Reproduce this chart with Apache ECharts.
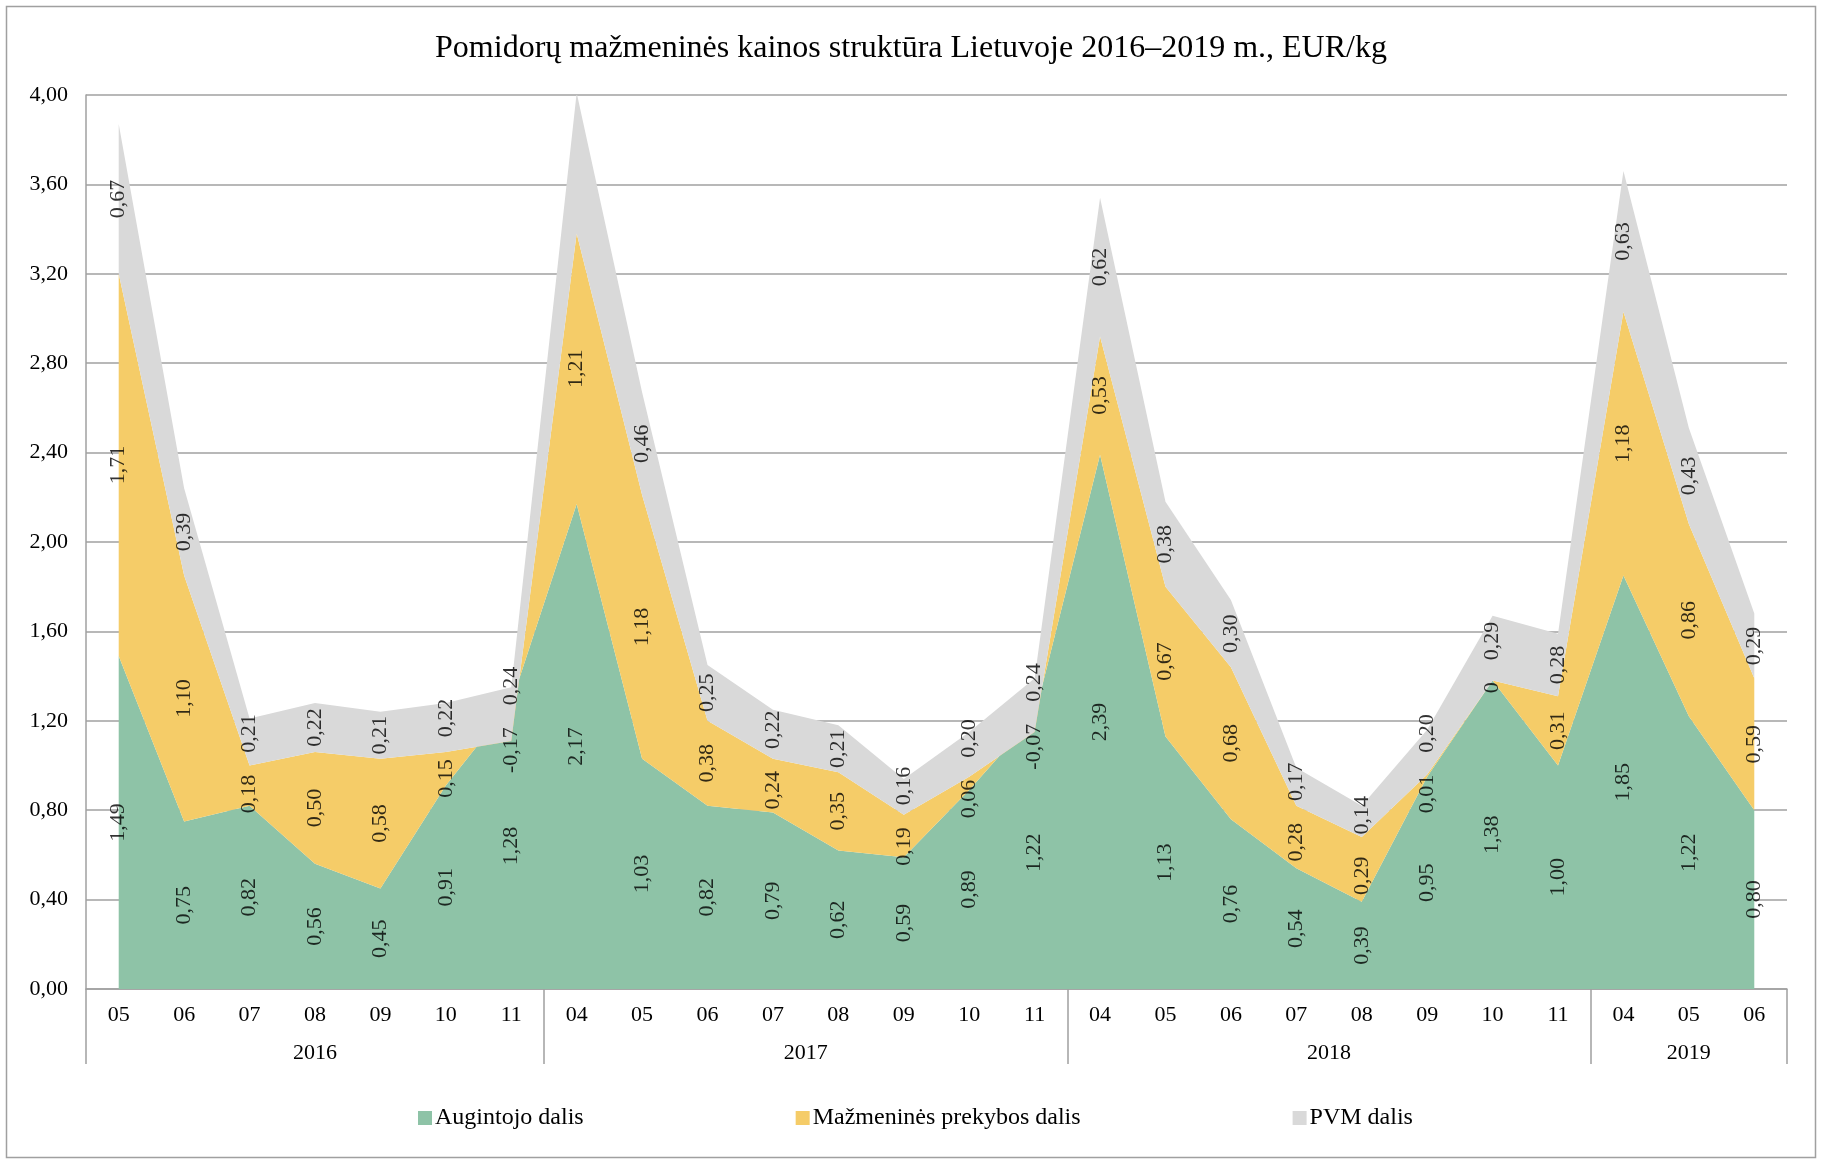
<!DOCTYPE html>
<html>
<head>
<meta charset="utf-8">
<script src="https://cdn.jsdelivr.net/npm/echarts@6/dist/echarts.min.js"></script>
<style>
  html, body { margin: 0; padding: 0; background: #fff; }
  #chart { width: 1822px; height: 1164px; }
</style>
</head>
<body>
<div id="chart"></div>
<script>
// Month codes along the axis, grouped by year
const months = ['05','06','07','08','09','10','11',
                '04','05','06','07','08','09','10','11',
                '04','05','06','07','08','09','10','11',
                '04','05','06'];
const years = ['2016', '2017', '2018', '2019'];
const monthsPerYear = [7, 8, 8, 3];

// Price components, EUR/kg
const growerShare = [1.49, 0.75, 0.82, 0.56, 0.45, 0.91, 1.28,
                     2.17, 1.03, 0.82, 0.79, 0.62, 0.59, 0.89, 1.22,
                     2.39, 1.13, 0.76, 0.54, 0.39, 0.95, 1.38, 1.00,
                     1.85, 1.22, 0.80];
const retailShare = [1.71, 1.10, 0.18, 0.50, 0.58, 0.15, -0.17,
                     1.21, 1.18, 0.38, 0.24, 0.35, 0.19, 0.06, -0.07,
                     0.53, 0.67, 0.68, 0.28, 0.29, 0.01, 0, 0.31,
                     1.18, 0.86, 0.59];
const vatShare = [0.67, 0.39, 0.21, 0.22, 0.21, 0.22, 0.24,
                  0.63, 0.46, 0.25, 0.22, 0.21, 0.16, 0.20, 0.24,
                  0.62, 0.38, 0.30, 0.17, 0.14, 0.20, 0.29, 0.28,
                  0.63, 0.43, 0.29];
// the April 2017 VAT value carries no label
const vatUnlabeled = [7];

const yTicks = { min: 0, max: 4, step: 0.4 };

const seriesNames = ['Augintojo dalis', 'Mažmeninės prekybos dalis', 'PVM dalis'];
const colors = ['#8ec3a7', '#f5cc68', '#d9d9d9'];

// layout
const FONT = '"Liberation Serif", "Times New Roman", serif';
const GRID = { left: 86, right: 35, top: 95, bottom: 175 };
const CHART_H = 1164;
const LABEL_FS = 22;
const LABEL_GAP = 22;
const pxPerUnit = (CHART_H - GRID.top - GRID.bottom) / (yTicks.max - yTicks.min);

const fmt = v => v === 0 ? '0' : v.toFixed(2).replace('.', ',');

// year axis: two points per month so that group centres and boundaries land on points
const yearAxis = [];
const yearBoundaries = [0];
const yearCentres = [];
{
  let start = 0;
  monthsPerYear.forEach((n, k) => {
    yearCentres.push(start * 2 + n);
    start += n;
    yearBoundaries.push(start * 2);
  });
  for (let i = 0; i <= months.length * 2; i++) {
    const c = yearCentres.indexOf(i);
    yearAxis.push(c >= 0 ? years[c] : ' ' + i);
  }
}

// label positions: middle of each band, pushed apart where they would collide
function textExtent(t) {
  let w = 0;
  for (const ch of t) w += ch === ',' ? 0.25 : (ch === '-' ? 0.333 : 0.5);
  return w * LABEL_FS;
}
const labelPts = [[], [], []];
months.forEach((m, i) => {
  const g = growerShare[i], r = retailShare[i], p = vatShare[i];
  const items = [
    { s: 0, v: g, mid: g / 2 },
    { s: 1, v: r, mid: g + r / 2 },
    { s: 2, v: p, mid: g + r + p / 2 }
  ];
  items.forEach(it => it.ext = textExtent(fmt(it.v)));
  for (let pass = 0; pass < 6; pass++) {
    for (let k = 1; k < items.length; k++) {
      const need = ((items[k - 1].ext + items[k].ext) / 2 + LABEL_GAP) / pxPerUnit;
      const diff = items[k].mid - items[k - 1].mid;
      if (diff < need) {
        const d = (need - diff) / 2;
        items[k - 1].mid -= d;
        items[k].mid += d;
      }
    }
  }
  items.forEach(it => {
    if (it.s === 2 && vatUnlabeled.includes(i)) return;
    labelPts[it.s].push({ value: [i, it.mid], raw: it.v });
  });
});

const shares = [growerShare, retailShare, vatShare];
const areaSeries = shares.map((d, s) => ({
  name: seriesNames[s],
  type: 'line',
  stack: 'price',
  stackStrategy: 'all',
  data: d,
  showSymbol: false,
  symbol: 'none',
  silent: true,
  color: colors[s],
  itemStyle: { color: colors[s] },
  lineStyle: { width: 0, color: colors[s] },
  areaStyle: { color: colors[s], opacity: 1 },
  emphasis: { disabled: true },
  z: 2
}));

const labelSeries = labelPts.map((pts, s) => ({
  name: seriesNames[s] + ' ',
  type: 'scatter',
  data: pts,
  symbolSize: 0,
  silent: true,
  z: 5,
  label: {
    show: true,
    position: 'inside',
    rotate: 90,
    fontFamily: FONT,
    fontSize: LABEL_FS,
    color: '#000',
    formatter: p => fmt(p.data.raw)
  },
  emphasis: { disabled: true }
}));

const chart = echarts.init(document.getElementById('chart'), null, { renderer: 'canvas' });
chart.setOption({
  animation: false,
  backgroundColor: '#fff',
  title: {
    text: 'Pomidorų mažmeninės kainos struktūra Lietuvoje 2016–2019 m., EUR/kg',
    left: 'center',
    top: 28,
    textStyle: { fontFamily: FONT, fontSize: 32, fontWeight: 'normal', color: '#000' }
  },
  graphic: [{
    type: 'rect',
    shape: { x: 6.5, y: 6.5, width: 1809, height: 1151 },
    style: { fill: null, stroke: '#a0a0a0', lineWidth: 1.5 },
    silent: true,
    z: -1
  }],
  legend: {
    data: seriesNames,
    bottom: 29,
    left: 413,
    icon: 'rect',
    itemWidth: 14,
    itemHeight: 14,
    itemGap: 212,
    selectedMode: false,
    textStyle: { fontFamily: FONT, fontSize: 24, color: '#000', padding: [0, 0, 0, -2] }
  },
  grid: { left: GRID.left, right: GRID.right, top: GRID.top, bottom: GRID.bottom, containLabel: false },
  xAxis: [{
    type: 'category',
    data: months,
    boundaryGap: true,
    position: 'bottom',
    axisLine: { show: true, lineStyle: { color: '#a0a0a0', width: 1.5 } },
    axisTick: { show: false },
    axisLabel: { interval: 0, margin: 15, fontFamily: FONT, fontSize: 22, color: '#000' },
    splitLine: { show: false }
  }, {
    type: 'category',
    data: yearAxis,
    boundaryGap: false,
    position: 'bottom',
    offset: 0,
    axisLine: { show: false },
    axisTick: {
      show: true,
      length: 75,
      interval: (idx) => yearBoundaries.includes(idx),
      lineStyle: { color: '#a0a0a0', width: 1.5 }
    },
    axisLabel: {
      interval: (idx) => yearCentres.includes(idx),
      margin: 53,
      fontFamily: FONT, fontSize: 22, color: '#000',
      formatter: v => (years.includes(v) ? v : '')
    },
    splitLine: { show: false }
  }],
  yAxis: {
    type: 'value',
    min: yTicks.min,
    max: yTicks.max,
    interval: yTicks.step,
    axisLine: { show: true, lineStyle: { color: '#a0a0a0', width: 1.5 } },
    axisTick: { show: false },
    axisLabel: {
      margin: 18,
      fontFamily: FONT, fontSize: 22, color: '#000',
      formatter: v => v.toFixed(2).replace('.', ',')
    },
    splitLine: { show: true, lineStyle: { color: '#a0a0a0', width: 1.5 } }
  },
  series: [...areaSeries, ...labelSeries]
});
</script>
</body>
</html>
